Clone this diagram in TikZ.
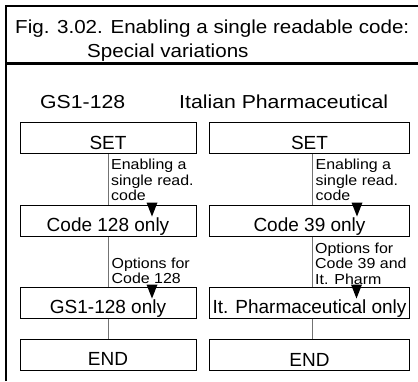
\documentclass[tikz,border=0pt]{standalone}
\usepackage{fontspec}
\setmainfont{Liberation Sans}
\newfontfamily\stretchfont[FakeStretch=1.13]{Liberation Sans}
\newfontfamily\titlefont[FakeStretch=1.095]{Liberation Sans}
\newfontfamily\labelfont[FakeStretch=1.1]{Liberation Sans}
\usetikzlibrary{calc}
\tikzset{
  frameline/.style={line width=2.4pt, black},
  stepbox/.style={draw=black, line width=1pt, minimum height=31pt, inner sep=0pt,
    font=\fontsize{19}{22}\selectfont, text height=22pt, text depth=0pt},
  leftbox/.style={stepbox, minimum width=176pt},
  rightbox/.style={stepbox, minimum width=200pt},
  link/.style={draw=black!55, line width=0.9pt},
  tri/.style={fill=black},
  lab/.style={font=\labelfont\fontsize{14.5}{15.5}\selectfont, align=left, anchor=north west, inner sep=0pt},
  head/.style={font=\stretchfont\fontsize{18.8}{23.7}\selectfont, inner sep=0pt},
  titletext/.style={font=\titlefont\fontsize{18.8}{23.7}\selectfont, inner sep=0pt},
}
\begin{document}
\begin{tikzpicture}[x=1pt,y=-1pt]
\useasboundingbox (0,0) rectangle (418,381);
% frame
\draw[frameline] (6,381) -- (6,6) -- (418,6);
\draw[frameline] (6,63.5) -- (418,63.5);
% title
\node[titletext, align=left, anchor=north west] (title) at (15,19.7)
  {Fig. 3.02. Enabling a single readable code:\\\hspace*{72pt}Special variations};
\node[head, anchor=base west] (h1) at (40,108) {GS1-128};
\node[head, anchor=base west] (h2) at (179,108) {Italian Pharmaceutical};
% left column
\node[leftbox] (s1) at (108,138) {SET};
\node[leftbox] (c1) at (108,220.5) {Code 128 only};
\node[leftbox] (g1) at (108,302.5) {GS1-128 only};
\node[leftbox] (e1) at (108,354.5) {END};
% right column
\node[rightbox] (s2) at (309.5,138) {SET};
\node[rightbox] (c2) at (309.5,220.5) {Code 39 only};
\node[rightbox] (g2) at (309.5,302.5) {It. Pharmaceutical only};
\node[rightbox] (e2) at (309.5,355) {END};
% connectors
\draw[link] (s1.south) -- (c1.north);
\draw[link] (c1.south) -- (g1.north);
\draw[link] (g1.south) -- (e1.north);
\draw[link] ([xshift=2.5pt]s2.south) -- ([xshift=2.5pt]c2.north);
\draw[link] ([xshift=2.5pt]c2.south) -- ([xshift=2.5pt]g2.north);
\draw[link] ([xshift=2.5pt]g2.south) -- ([xshift=2.5pt]e2.north);
% arrowheads
\fill[tri] ($(c1.north)+(44,-2)$) +(-5.5,0) -- +(5.5,0) -- +(0,14) -- cycle;
\fill[tri] ($(g1.north)+(44,-2)$) +(-5.5,0) -- +(5.5,0) -- +(0,14) -- cycle;
\fill[tri] ($(c2.north)+(47.5,-2)$) +(-5.5,0) -- +(5.5,0) -- +(0,14) -- cycle;
\fill[tri] ($(g2.north)+(47,-2)$) +(-5.5,0) -- +(5.5,0) -- +(0,14) -- cycle;
% labels
\node[lab] (l1) at (111,159) {Enabling a\\single read.\\code};
\node[lab] (l2) at (315.5,159) {Enabling a\\single read.\\code};
\node[lab] (l3) at (111.5,257.5) {Options for\\Code 128};
\node[lab] (l4) at (315,242.5) {Options for\\Code 39 and\\It. Pharm};
\end{tikzpicture}
\end{document}
